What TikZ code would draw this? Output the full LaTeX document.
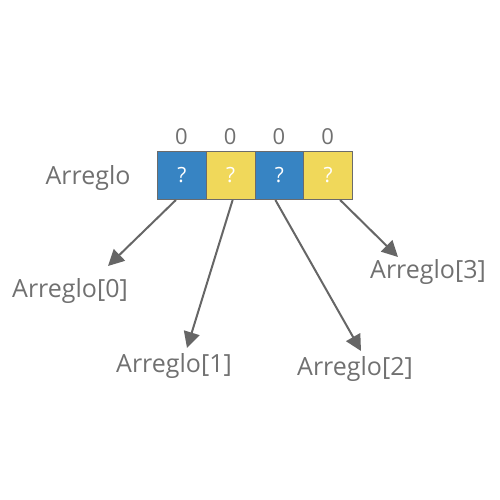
\documentclass[tikz,border=0pt]{standalone}
\usepackage{fontspec}
\setmainfont{Open Sans}
\usetikzlibrary{arrows.meta,calc}
\definecolor{cblue}{HTML}{3784C3}
\definecolor{cyellow}{HTML}{F0D85A}
\definecolor{cborder}{HTML}{6B6B6B}
\definecolor{ctext}{HTML}{707070}
\definecolor{carrow}{HTML}{666666}
\begin{document}
\begin{tikzpicture}[x=1pt,y=-1pt,
  cell/.style={draw=cborder,line width=1pt,minimum width=48.75pt,minimum height=48pt,inner sep=0pt,anchor=north west,text=white,font=\fontsize{21}{21}\selectfont},
  lbl/.style={text=ctext,font=\fontsize{25}{25}\selectfont,inner sep=0pt,anchor=base},
  idx/.style={text=ctext,font=\fontsize{22}{22}\selectfont,inner sep=0pt,anchor=base},
  arr/.style={draw=carrow,line width=2pt,-{Triangle[length=16pt,width=16pt]}}]
\useasboundingbox (0,0) rectangle (500,500);
\node[cell,fill=cblue] (b0) at (157,151) {?};
\node[cell,fill=cyellow] (b1) at (205.75,151) {?};
\node[cell,fill=cblue] (b2) at (254.5,151) {?};
\node[cell,fill=cyellow] (b3) at (303.25,151) {?};
\node[idx] (i0) at (181.4,144) {0};
\node[idx] (i1) at (230.1,144) {0};
\node[idx] (i2) at (278.9,144) {0};
\node[idx] (i3) at (327.6,144) {0};
\node[lbl] (arr) at (88,184) {Arreglo};
\node[lbl] (l0) at (70,297) {Arreglo[0]};
\node[lbl] (l1) at (174,372) {Arreglo[1]};
\node[lbl] (l2) at (355,375) {Arreglo[2]};
\node[lbl] (l3) at (428,278) {Arreglo[3]};
\coordinate (t0) at (108,266);
\coordinate (t1) at (187,348);
\coordinate (t2) at (361,351);
\coordinate (t3) at (398,257);
\draw[arr] ($(b0.south)+(-6,0)$) -- (t0);
\draw[arr] ($(b1.south)+(2,0)$) -- (t1);
\draw[arr] ($(b2.south)+(-4,0)$) -- (t2);
\draw[arr] ($(b3.south)+(12,0)$) -- (t3);
\end{tikzpicture}
\end{document}
